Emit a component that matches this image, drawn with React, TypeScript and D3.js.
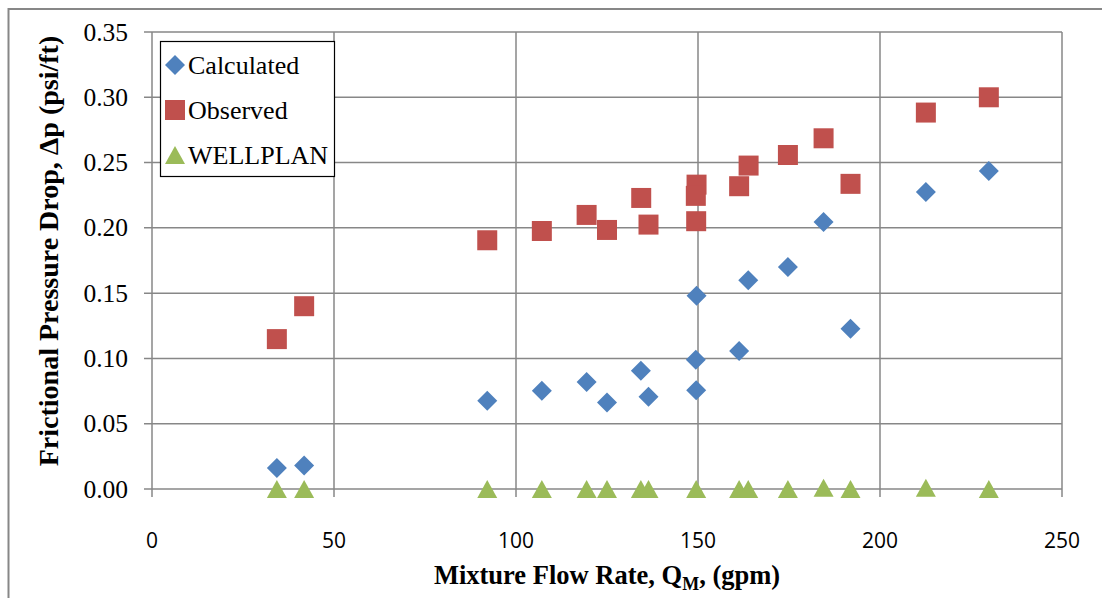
import React from "react";
import * as d3 from "d3";

const calcX = [34.3, 41.8, 92.1, 107.1, 119.4, 125.0, 134.3, 136.4, 149.6, 149.4, 149.5, 161.3, 163.8, 174.7, 184.5, 191.9, 212.6, 229.9];
const calcY = [0.016, 0.018, 0.0675, 0.0752, 0.082, 0.0662, 0.0905, 0.0706, 0.148, 0.0989, 0.0757, 0.1056, 0.1598, 0.170, 0.2045, 0.1227, 0.2275, 0.2436];

const obsX = [34.3, 41.8, 92.1, 107.1, 119.4, 125.0, 134.4, 136.4, 149.6, 149.4, 149.5, 161.3, 163.9, 174.7, 184.5, 191.9, 212.6, 229.9];
const obsY = [0.1148, 0.140, 0.1905, 0.1976, 0.2099, 0.1984, 0.2229, 0.2025, 0.2331, 0.2245, 0.2051, 0.2319, 0.2477, 0.2558, 0.2686, 0.2337, 0.2883, 0.300];

const wpX = [34.3, 41.8, 92.1, 107.1, 119.4, 125.0, 134.3, 136.4, 149.5, 161.3, 163.8, 174.7, 184.5, 191.9, 212.6, 229.9];
const wpY = [0.0, 0.0, 0.0, 0.0, 0.0, 0.0, 0.0, 0.0, 0.0, 0.0, 0.0, 0.0, 0.001, 0.0, 0.001, 0.0];

const xTicks = [0, 50, 100, 150, 200, 250];
const yTicks = [0, 0.05, 0.1, 0.15, 0.2, 0.25, 0.3, 0.35];

const seriesNames = ["Calculated", "Observed", "WELLPLAN"];
const BLUE = "#4F81BD";
const RED = "#C0504D";
const GREEN = "#9BBB59";
const GRID = "#878787";

const diamond = (cx: number, cy: number, r = 10) => `M${cx},${cy - r}L${cx + r},${cy}L${cx},${cy + r}L${cx - r},${cy}Z`;
const square = (cx: number, cy: number, s = 20) => `M${cx - s / 2},${cy - s / 2}h${s}v${s}h${-s}Z`;
const triangle = (cx: number, cy: number, w = 20, h = 18) => `M${cx},${cy - h / 2}L${cx + w / 2},${cy + h / 2}L${cx - w / 2},${cy + h / 2}Z`;

export default function App() {
  const x = d3.scaleLinear().domain([0, 250]).range([152, 1062]);
  const y = d3.scaleLinear().domain([0, 0.35]).range([489, 32]);
  const serif = "'Liberation Serif', 'Times New Roman', serif";
  const sans = "'Open Sans', 'Liberation Sans', sans-serif";

  const legendItems = [
    { name: seriesNames[0], color: BLUE, shape: diamond },
    { name: seriesNames[1], color: RED, shape: square },
    { name: seriesNames[2], color: GREEN, shape: triangle },
  ];

  return (
    <svg width={1102} height={598} style={{ position: "absolute", left: 0, top: 0, background: "#fff" }}>
      <rect x={0} y={0} width={1102} height={598} fill="#fff" />
      {/* outer frame */}
      <rect x={8.5} y={9} width={1200} height={700} fill="none" stroke={GRID} strokeWidth={2} />

      {/* grid */}
      {yTicks.map((t) => (
        <line key={"h" + t} x1={144} x2={1062} y1={y(t)} y2={y(t)} stroke={GRID} strokeWidth={1.5} />
      ))}
      {xTicks.map((t) => (
        <line key={"v" + t} x1={x(t)} x2={x(t)} y1={32} y2={497} stroke={GRID} strokeWidth={1.5} />
      ))}

      {/* y tick labels */}
      {yTicks.map((t) => (
        <text key={"yl" + t} x={128} y={y(t) + 8.5} textAnchor="end" fontFamily={serif} fontSize={25.5} fill="#000">
          {d3.format(".2f")(t)}
        </text>
      ))}
      {/* x tick labels */}
      {xTicks.map((t) => (
        <text key={"xl" + t} x={x(t)} y={548} textAnchor="middle" fontFamily={sans} fontSize={21} fill="#000">
          {t}
        </text>
      ))}

      {/* series */}
      {calcX.map((v, i) => (
        <path key={"c" + i} d={diamond(x(v), y(calcY[i]))} fill={BLUE} />
      ))}
      {obsX.map((v, i) => (
        <path key={"o" + i} d={square(x(v), y(obsY[i]))} fill={RED} />
      ))}
      {wpX.map((v, i) => (
        <path key={"w" + i} d={triangle(x(v), y(wpY[i]))} fill={GREEN} />
      ))}

      {/* legend */}
      <rect x={160.5} y={41.5} width={174} height={135} fill="#fff" stroke="#000" strokeWidth={1.2} />
      {legendItems.map((it, i) => {
        const cy = 65 + i * 45;
        return (
          <g key={it.name}>
            <path d={it.shape(175, cy)} fill={it.color} />
            <text x={188} y={cy + 9} fontFamily={serif} fontSize={26} fill="#000">
              {it.name}
            </text>
          </g>
        );
      })}

      {/* axis titles */}
      <text x={607} y={584} textAnchor="middle" fontFamily={serif} fontSize={26.5} fontWeight="bold" fill="#000">
        Mixture Flow Rate, Q<tspan fontSize={18} dy={6}>M</tspan>
        <tspan dy={-6}>, (gpm)</tspan>
      </text>
      <text
        transform="translate(58,251) rotate(-90)"
        textAnchor="middle"
        fontFamily={serif}
        fontSize={28}
        fontWeight="bold"
        fill="#000"
      >
        Frictional Pressure Drop, Δp (psi/ft)
      </text>
    </svg>
  );
}
